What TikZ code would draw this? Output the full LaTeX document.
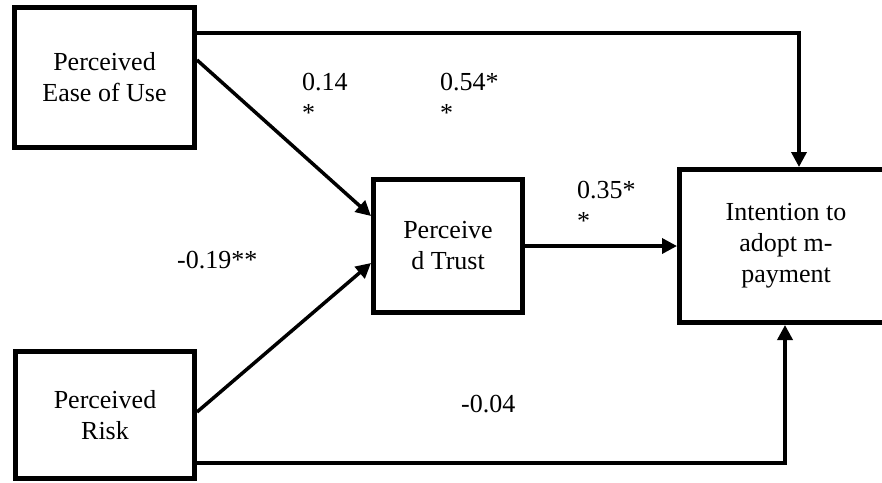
\documentclass[tikz,border=0pt]{standalone}
\usepackage{fontspec}
\setmainfont{Liberation Serif}
\usepackage{tikz}
\usetikzlibrary{arrows.meta, positioning}

\begin{document}
\begin{tikzpicture}[x=1pt, y=-1pt,
		construct/.style={draw, line width=5pt, align=center, inner sep=0pt,
			font=\fontsize{26}{31}\selectfont},
		path/.style={line width=3.5pt, -{Triangle[length=15pt, width=15pt]}},
		coef/.style={anchor=base west, align=left, inner sep=0pt,
			font=\fontsize{26}{31}\selectfont}]
		\useasboundingbox (0,0) rectangle (882,482);
		
		% Constructs
		\node[construct, minimum width=180pt, minimum height=140pt] (peou) at (104.5,77.5) {Perceived\\Ease of Use};
		\node[construct, minimum width=179pt, minimum height=127pt] (risk) at (105,415) {Perceived\\Risk};
		\node[construct, minimum width=149pt, minimum height=133pt] (trust) at (448,246) {Perceive\\d Trust};
		\node[construct, minimum width=213pt, minimum height=153pt] (intent) at (786,246) {Intention to\\adopt m-\\payment};
		
		% Paths
		\coordinate (toprail) at (799,33);
		\coordinate (botrail) at (785,463);
		\draw[path, line cap=rect] (peou.east |- toprail) -- (toprail) -- (intent.north -| toprail);
		\draw[path] ([yshift=17.5pt]peou.east) -- ([yshift=30pt]trust.west);
		\draw[path] ([yshift=3pt]risk.east) -- ([yshift=-17pt]trust.west);
		\draw[path] (trust.east) -- (intent.west);
		\draw[path] (risk.east |- botrail) -- (botrail) -- (intent.south -| botrail);
		
		% Coefficients (base is the last line)
		\node[coef] (c1) at (302,121) {0.14\\*};
		\node[coef] (c2) at (440,121) {0.54*\\*};
		\node[coef] (c3) at (577,229) {0.35*\\*};
		\node[coef] (c4) at (177,268) {-0.19**};
		\node[coef] (c5) at (461,412) {-0.04};
	\end{tikzpicture}
\end{document}
